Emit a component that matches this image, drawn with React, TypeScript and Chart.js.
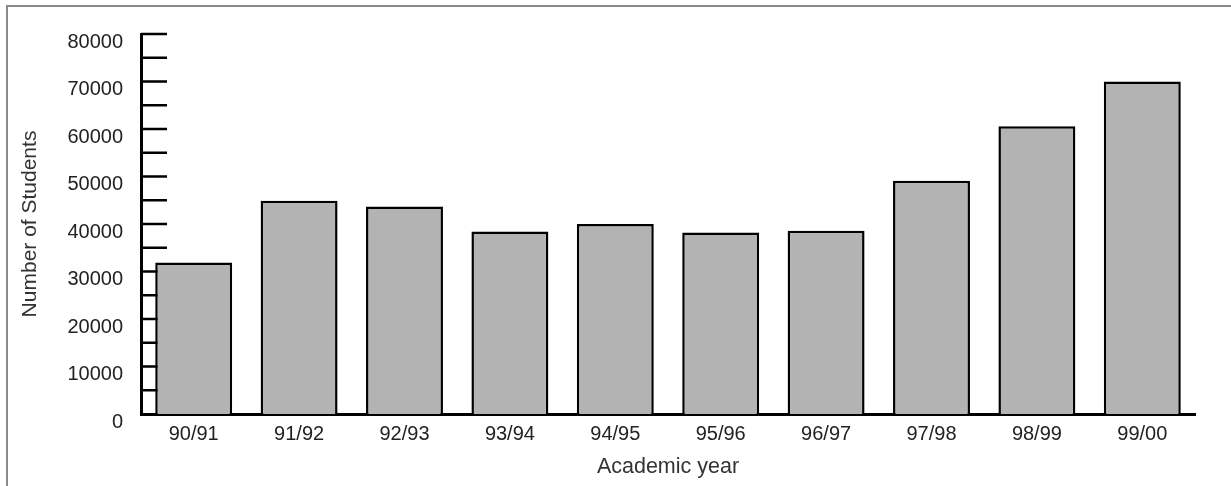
import React, { useEffect, useRef } from 'react';
import { Chart, registerables } from 'chart.js';

Chart.register(...registerables);

const categories = ['90/91', '91/92', '92/93', '93/94', '94/95', '95/96', '96/97', '97/98', '98/99', '99/00'];
const students = [31900, 44900, 43700, 38400, 40000, 38200, 38600, 49100, 60600, 70000];
const yMin = 0;
const yMax = 80000;
const yMinorStep = 5000;
const yLabelStep = 10000;
const xTitle = 'Academic year';
const yTitle = 'Number of Students';

const FONT = "'Liberation Sans', Arial, sans-serif";

export default function App() {
  const ref = useRef<HTMLCanvasElement>(null);

  useEffect(() => {
    if (!ref.current) return;

    const framePlugin = {
      id: 'frame',
      beforeDraw(chart: any) {
        const ctx = chart.ctx;
        ctx.save();
        ctx.fillStyle = '#8a8a8a';
        ctx.fillRect(6, 5, chart.width - 6, 2);
        ctx.fillRect(6, 5, 2, chart.height - 5);
        ctx.restore();
      },
    };

    const innerTicksPlugin = {
      id: 'innerTicks',
      beforeDatasetsDraw(chart: any) {
        const ctx = chart.ctx;
        const yScale = chart.scales.y;
        const left = chart.chartArea.left;
        ctx.save();
        ctx.strokeStyle = '#000';
        ctx.lineWidth = 2.5;
        ctx.beginPath();
        yScale.ticks.forEach((t: any) => {
          if (t.value === yMin) return;
          const py = yScale.getPixelForValue(t.value);
          ctx.moveTo(left, py);
          ctx.lineTo(left + 26, py);
        });
        ctx.stroke();
        ctx.restore();
      },
    };

    const chart = new Chart(ref.current, {
      type: 'bar',
      data: {
        labels: categories,
        datasets: [
          {
            data: students,
            backgroundColor: '#b3b3b3',
            borderColor: '#000',
            borderWidth: 2.5,
            categoryPercentage: 1,
            barPercentage: 0.73,
          },
        ],
      },
      options: {
        responsive: false,
        animation: false,
        devicePixelRatio: 1,
        layout: { padding: { left: 0, right: 36, top: 34, bottom: 0 } },
        plugins: {
          legend: { display: false },
          tooltip: { enabled: false },
        },
        scales: {
          x: {
            grid: { display: false, drawTicks: false },
            border: { display: true, color: '#000', width: 3 },
            ticks: {
              color: '#222',
              font: { family: FONT, size: 20 },
              padding: 8,
              maxRotation: 0,
              autoSkip: false,
            },
            title: {
              display: true,
              text: xTitle,
              color: '#333',
              font: { family: FONT, size: 21.5 },
              padding: { top: 0, bottom: 6 },
            },
            afterFit(scale: any) {
              scale.height = 72;
            },
          },
          y: {
            min: yMin,
            max: yMax,
            grid: { display: false, drawTicks: false },
            border: { display: true, color: '#000', width: 3 },
            ticks: {
              stepSize: yMinorStep,
              autoSkip: false,
              color: '#222',
              font: { family: FONT, size: 20 },
              padding: 18,
              labelOffset: 8,
              callback: (v: any) => (Number(v) % yLabelStep === 0 ? String(v) : ''),
            },
            title: {
              display: true,
              text: yTitle,
              color: '#333',
              font: { family: FONT, size: 21 },
              padding: { top: 18, bottom: 0 },
            },
            afterFit(scale: any) {
              scale.width = 141;
            },
          },
        },
      },
      plugins: [framePlugin, innerTicksPlugin],
    });

    return () => chart.destroy();
  }, []);

  return (
    <div style={{ position: 'absolute', left: 0, top: 0, width: 1231, height: 486 }}>
      <canvas ref={ref} width={1231} height={486} style={{ display: 'block' }} />
    </div>
  );
}
